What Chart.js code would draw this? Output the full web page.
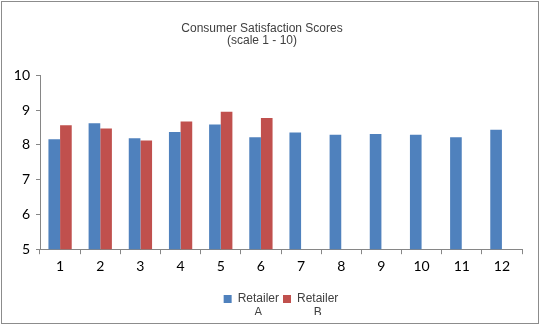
<!DOCTYPE html>
<html>
<head>
<meta charset="utf-8">
<script src="https://cdn.jsdelivr.net/npm/chart.js@4/dist/chart.umd.min.js"></script>
<style>
  body { margin: 0; background: #fff; }
  #wrap { position: absolute; left: 1px; top: 1px; width: 536px; height: 321px; border: 1px solid #8c8c8c; }
</style>
</head>
<body>
<div id="wrap"><canvas id="chart" width="536" height="321"></canvas></div>
<script>
const months = ['1', '2', '3', '4', '5', '6', '7', '8', '9', '10', '11', '12'];
const retailerA = [8.16, 8.62, 8.19, 8.37, 8.58, 8.22, 8.35, 8.29, 8.31, 8.29, 8.22, 8.43];
const retailerB = [8.56, 8.47, 8.12, 8.67, 8.95, 8.77, 0, 0, 0, 0, 0, 0];
const yTicks = [5, 6, 7, 8, 9, 10];

// two-line legend label; measured by its first line only
function twoLines(a, b) {
  const arr = [a, b];
  arr.toString = function () { return a; };
  return arr;
}

function drawChart(canvasID) {
  const data = {
    labels: months,
    datasets: [{
      label: twoLines('Retailer', 'A'),
      backgroundColor: '#4f81bd',
      data: retailerA,
    }, {
      label: twoLines('Retailer', 'B'),
      backgroundColor: '#c0504d',
      data: retailerB,
    }]
  };

  const config = {
    type: 'bar',
    data: data,
    options: {
      responsive: false,
      animation: false,
      categoryPercentage: 0.58,
      barPercentage: 1.0,
      layout: { padding: { left: 0, right: 16, top: 0, bottom: 8 } },
      plugins: {
        title: {
          display: true,
          text: ['Consumer Satisfaction Scores', '(scale 1 - 10)'],
          color: '#404040',
          font: { family: 'Liberation Sans', size: 12, weight: 'normal', lineHeight: 1.05 },
          padding: { top: 20, bottom: 28 }
        },
        legend: {
          position: 'bottom',
          fullSize: false,
          labels: {
            boxWidth: 8,
            boxHeight: 8,
            padding: 4,
            textAlign: 'center',
            color: '#404040',
            font: { family: 'Liberation Sans', size: 12, lineHeight: 1.1 }
          }
        },
        tooltip: { enabled: false }
      },
      scales: {
        y: {
          min: 5,
          max: 10,
          afterFit: function (scale) { scale.width = 38; },
          afterBuildTicks: function (scale) { scale.ticks = yTicks.map(v => ({ value: v })); },
          grid: { drawOnChartArea: false, tickLength: 4, color: '#868686' },
          border: { color: '#868686' },
          ticks: { color: '#000', padding: 6, font: { family: 'Lato', size: 14 } }
        },
        x: {
          afterFit: function (scale) { scale.height += 10; },
          grid: { drawOnChartArea: false, offset: true, tickLength: 5, color: '#868686' },
          border: { color: '#868686' },
          ticks: { color: '#000', padding: 4, font: { family: 'Lato', size: 14 } }
        }
      }
    }
  };

  const ctx = document.getElementById(canvasID).getContext('2d');
  return new Chart(ctx, config);
}

drawChart('chart');
</script>
</body>
</html>
